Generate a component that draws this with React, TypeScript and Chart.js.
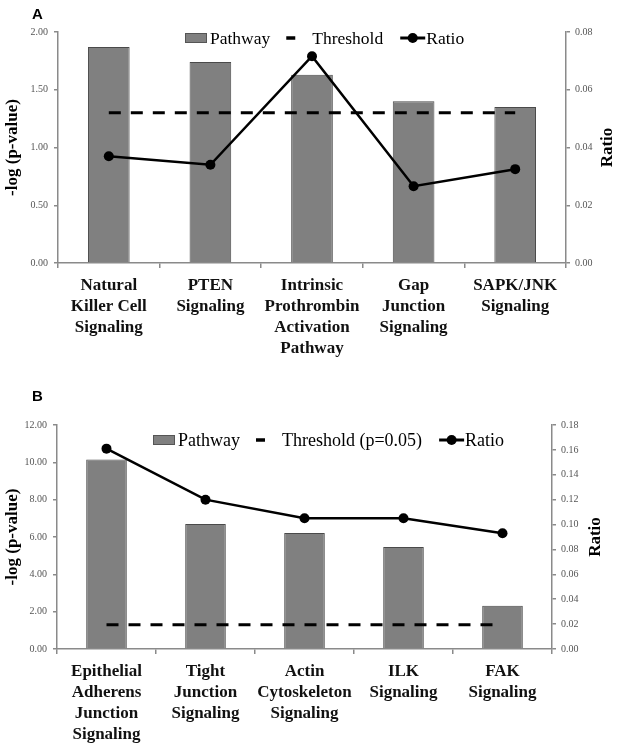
import React, { useEffect, useRef } from "react";
import { Chart, registerables } from "chart.js";

Chart.register(...registerables);

// ---------- Data ----------
const CATEGORIES_A: string[][] = [
  ["Natural", "Killer Cell", "Signaling"],
  ["PTEN", "Signaling"],
  ["Intrinsic", "Prothrombin", "Activation", "Pathway"],
  ["Gap", "Junction", "Signaling"],
  ["SAPK/JNK", "Signaling"],
];
const PATHWAY_A = [1.87, 1.74, 1.63, 1.4, 1.35];
const THRESHOLD_A = [1.3, 1.3, 1.3, 1.3, 1.3];
const RATIO_A = [0.037, 0.034, 0.0716, 0.0266, 0.0325];
const LEGEND_A = ["Pathway", "Threshold", "Ratio"];

const CATEGORIES_B: string[][] = [
  ["Epithelial", "Adherens", "Junction", "Signaling"],
  ["Tight", "Junction", "Signaling"],
  ["Actin", "Cytoskeleton", "Signaling"],
  ["ILK", "Signaling"],
  ["FAK", "Signaling"],
];
const PATHWAY_B = [10.15, 6.7, 6.22, 5.47, 2.32];
const THRESHOLD_B = [1.3, 1.3, 1.3, 1.3, 1.3];
const RATIO_B = [0.161, 0.12, 0.105, 0.105, 0.093];
const LEGEND_B = ["Pathway", "Threshold (p=0.05)", "Ratio"];

const Y_TITLE = "-log (p-value)";
const Y1_TITLE = "Ratio";

const SERIF = "'Liberation Serif', 'Times New Roman', serif";
const SANS = "'Liberation Sans', Arial, sans-serif";

type Spec = {
  letter: string;
  letterBaseline: number;
  categories: string[][];
  pathway: number[];
  threshold: number[];
  ratio: number[];
  legend: string[];
  legendStart: number; // absolute x
  legendY: number;
  legendFont: number;
  yMax: number;
  yStep: number;
  y1Max: number;
  y1Step: number;
  top: number;
  leftW: number;
  rightW: number;
  bottomH: number;
  rightTitleX: number;
};

const SPEC_A: Spec = {
  letter: "A",
  letterBaseline: 18.5,
  categories: CATEGORIES_A,
  pathway: PATHWAY_A,
  threshold: THRESHOLD_A,
  ratio: RATIO_A,
  legend: LEGEND_A,
  legendStart: 185,
  legendY: 38,
  legendFont: 17.5,
  yMax: 2,
  yStep: 0.5,
  y1Max: 0.08,
  y1Step: 0.02,
  top: 32,
  leftW: 58,
  rightW: 53,
  bottomH: 112,
  rightTitleX: 608,
};

const SPEC_B: Spec = {
  letter: "B",
  letterBaseline: 26,
  categories: CATEGORIES_B,
  pathway: PATHWAY_B,
  threshold: THRESHOLD_B,
  ratio: RATIO_B,
  legend: LEGEND_B,
  legendStart: 153,
  legendY: 65,
  legendFont: 18,
  yMax: 12,
  yStep: 2,
  y1Max: 0.18,
  y1Step: 0.02,
  top: 50,
  leftW: 57,
  rightW: 67,
  bottomH: 101,
  rightTitleX: 596,
};

const decorPlugin = {
  id: "decor",
  afterDraw(chart: any, _args: any, opts: any) {
    const spec: Spec = opts.spec;
    if (!spec) return;
    const ctx = chart.ctx as CanvasRenderingContext2D;
    const area = chart.chartArea;
    ctx.save();
    // panel letter
    ctx.fillStyle = "#000";
    ctx.font = `bold 15px ${SANS}`;
    ctx.textAlign = "left";
    ctx.textBaseline = "alphabetic";
    ctx.fillText(spec.letter, 32, spec.letterBaseline);

    // axis titles
    const cy = (area.top + area.bottom) / 2;
    ctx.font = `bold 17px ${SERIF}`;
    ctx.textAlign = "center";
    ctx.textBaseline = "middle";
    ctx.save();
    ctx.translate(13, cy);
    ctx.rotate(-Math.PI / 2);
    ctx.fillText(Y_TITLE, 0, 0);
    ctx.restore();
    ctx.save();
    ctx.translate(spec.rightTitleX, cy);
    ctx.rotate(-Math.PI / 2);
    ctx.fillText(Y1_TITLE, 0, 0);
    ctx.restore();

    // legend
    const y = spec.legendY;
    ctx.font = `${spec.legendFont}px ${SERIF}`;
    ctx.textAlign = "left";
    ctx.textBaseline = "middle";
    let x = spec.legendStart;
    // Pathway box
    ctx.fillStyle = "#808080";
    ctx.strokeStyle = "#555";
    ctx.lineWidth = 1;
    ctx.fillRect(x, y - 5, 22, 10);
    ctx.strokeRect(x + 0.5, y - 4.5, 21, 9);
    x += 25;
    ctx.fillStyle = "#000";
    ctx.fillText(spec.legend[0], x, y + 1);
    x += ctx.measureText(spec.legend[0]).width + 16;
    // Threshold dash
    ctx.strokeStyle = "#000";
    ctx.lineWidth = 3.5;
    ctx.beginPath();
    ctx.moveTo(x, y);
    ctx.lineTo(x + 9, y);
    ctx.stroke();
    x += 26;
    ctx.fillText(spec.legend[1], x, y + 1);
    x += ctx.measureText(spec.legend[1]).width + 17;
    // Ratio line + dot
    ctx.lineWidth = 3;
    ctx.beginPath();
    ctx.moveTo(x, y);
    ctx.lineTo(x + 25, y);
    ctx.stroke();
    ctx.beginPath();
    ctx.arc(x + 12.5, y, 5, 0, Math.PI * 2);
    ctx.fill();
    x += 26;
    ctx.fillText(spec.legend[2], x, y + 1);
    ctx.restore();
  },
};

function buildConfig(spec: Spec): any {
  const axisColor = "#8a8a8a";
  const tickFont = { family: SERIF, size: 10 };
  return {
    type: "bar",
    data: {
      labels: spec.categories,
      datasets: [
        {
          type: "line",
          label: spec.legend[2],
          data: spec.ratio,
          yAxisID: "y1",
          borderColor: "#000",
          backgroundColor: "#000",
          borderWidth: 2.5,
          pointRadius: 5,
          pointBackgroundColor: "#000",
          pointBorderWidth: 0,
          tension: 0,
          order: 0,
        },
        {
          type: "line",
          label: spec.legend[1],
          data: spec.threshold,
          yAxisID: "y",
          borderColor: "#000",
          borderWidth: 3,
          borderDash: [12, 10],
          pointRadius: 0,
          tension: 0,
          order: 1,
        },
        {
          type: "bar",
          label: spec.legend[0],
          data: spec.pathway,
          yAxisID: "y",
          backgroundColor: "#808080",
          borderColor: "#4a4a4a",
          borderWidth: 1,
          barPercentage: 0.41,
          categoryPercentage: 1,
          order: 2,
        },
      ],
    },
    options: {
      responsive: false,
      animation: false,
      layout: { padding: { top: spec.top, left: 0, right: 0, bottom: 0 } },
      plugins: {
        legend: { display: false },
        title: { display: false },
        tooltip: { enabled: false },
        decor: { spec },
      },
      scales: {
        x: {
          offset: true,
          grid: {
            display: true,
            offset: true,
            drawOnChartArea: false,
            drawTicks: true,
            tickLength: 5,
            color: axisColor,
            lineWidth: 1.5,
          },
          border: { display: true, color: axisColor, width: 1.5 },
          ticks: {
            font: { family: SERIF, size: 17, weight: "bold", lineHeight: 1.24 },
            color: "#111",
            padding: 7,
            maxRotation: 0,
            minRotation: 0,
            autoSkip: false,
          },
          afterFit: (s: any) => {
            s.height = spec.bottomH;
          },
        },
        y: {
          position: "left",
          min: 0,
          max: spec.yMax,
          ticks: {
            stepSize: spec.yStep,
            callback: (v: any) => Number(v).toFixed(2),
            font: tickFont,
            color: "#555",
            padding: 6,
          },
          grid: {
            display: true,
            drawOnChartArea: false,
            drawTicks: true,
            tickLength: 4,
            color: axisColor,
            lineWidth: 1.5,
          },
          border: { display: true, color: axisColor, width: 1.5 },
          afterFit: (s: any) => {
            s.width = spec.leftW;
          },
        },
        y1: {
          position: "right",
          min: 0,
          max: spec.y1Max,
          ticks: {
            stepSize: spec.y1Step,
            callback: (v: any) => Number(v).toFixed(2),
            font: tickFont,
            color: "#555",
            padding: 5,
          },
          grid: {
            display: true,
            drawOnChartArea: false,
            drawTicks: true,
            tickLength: 4,
            color: axisColor,
            lineWidth: 1.5,
          },
          border: { display: true, color: axisColor, width: 1.5 },
          afterFit: (s: any) => {
            s.width = spec.rightW;
          },
        },
      },
    },
    plugins: [decorPlugin],
  };
}

function Panel({ spec, top }: { spec: Spec; top: number }) {
  const ref = useRef<HTMLCanvasElement | null>(null);
  useEffect(() => {
    if (!ref.current) return;
    const chart = new Chart(ref.current, buildConfig(spec));
    return () => chart.destroy();
  }, [spec]);
  return (
    <canvas
      ref={ref}
      width={619}
      height={375}
      style={{ position: "absolute", left: 0, top, width: 619, height: 375 }}
    />
  );
}

export default function App() {
  return (
    <div
      style={{
        position: "absolute",
        left: 0,
        top: 0,
        width: 619,
        height: 750,
        background: "#fff",
      }}
    >
      <Panel spec={SPEC_A} top={0} />
      <Panel spec={SPEC_B} top={375} />
    </div>
  );
}
